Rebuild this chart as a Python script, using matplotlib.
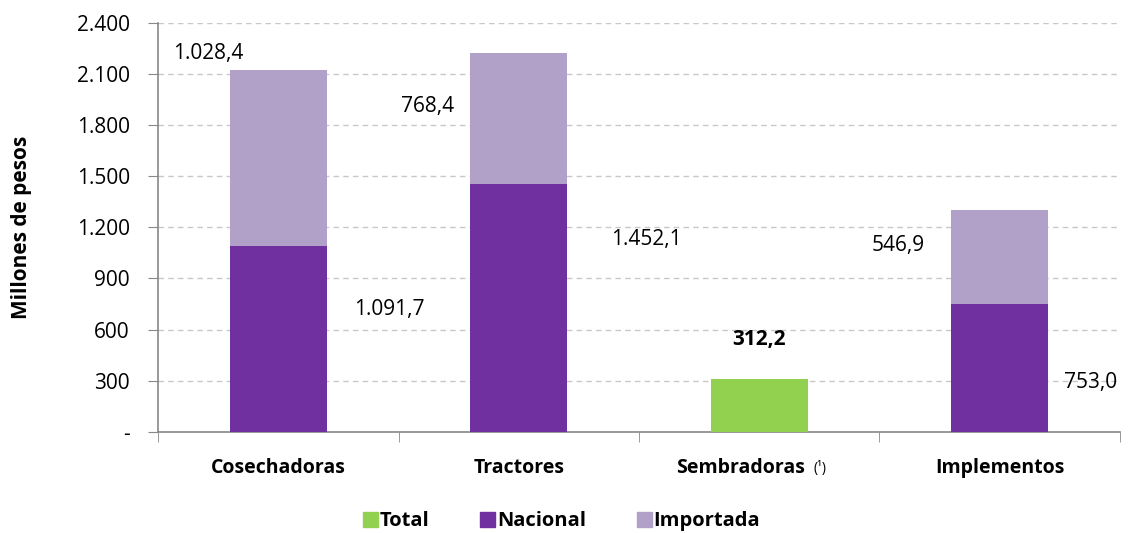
import matplotlib.pyplot as plt
from matplotlib.ticker import FuncFormatter, FixedLocator
from matplotlib.patches import Patch

plt.rcParams['font.family'] = ['Open Sans', 'DejaVu Sans']

# Datos
categorias = ["Cosechadoras", "Tractores", "Sembradoras", "Implementos"]
nacional = [1091.7, 1452.1, 0, 753.0]
importada = [1028.4, 768.4, 0, 546.9]
total = [0, 0, 312.2, 0]

# Posicion de las etiquetas (desplazadas como en el original)
etiq_nac = ["1.091,7", "1.452,1", None, "753,0"]
etiq_imp = ["1.028,4", "768,4", None, "546,9"]
pos_nac = [(0.46, 716), (1.53, 1127), None, (3.38, 293)]
pos_imp = [(-0.29, 2218), (0.62, 1907), None, (2.58, 1091)]

verde = "#92D050"
morado = "#7030A0"
lila = "#B1A0C7"

fig = plt.figure(figsize=(11.3, 5.33), dpi=100)
ax = fig.add_axes([0.14, 0.1895, 0.851, 0.768])

x = range(len(categorias))
w = 0.405
ax.bar(x, nacional, width=w, color=morado, zorder=3)
ax.bar(x, importada, bottom=nacional, width=w, color=lila, zorder=3)
ax.bar(x, total, width=w, color=verde, zorder=3)

for i in x:
    if etiq_nac[i]:
        ax.text(*pos_nac[i], etiq_nac[i], ha="center", va="center", fontsize=15)
        ax.text(*pos_imp[i], etiq_imp[i], ha="center", va="center", fontsize=15)
ax.text(2, 540, "312,2", ha="center", va="center", fontsize=15, fontweight="bold")

ax.set_xlim(-0.5, 3.5)
ax.set_ylim(0, 2400)
ax.set_yticks(range(0, 2401, 300))
ax.yaxis.set_major_formatter(FuncFormatter(
    lambda v, p: "-" if v == 0 else f"{int(v):,}".replace(",", ".")))
ax.tick_params(axis="y", labelsize=15, length=7, color="#888888", pad=13.5)
ax.grid(axis="y", color="#c8c8c8", linestyle=(0, (4, 3)), linewidth=1, zorder=0)

ax.set_xticks([])
ax.xaxis.set_minor_locator(FixedLocator([-0.5, 0.5, 1.5, 2.5, 3.5]))
ax.tick_params(axis="x", which="minor", length=7, color="#888888")

for i, c in enumerate(categorias):
    if c == "Sembradoras":
        ax.annotate(c, xy=(i, 0), xycoords=("data", "axes fraction"),
                    xytext=(-13.5, -26), textcoords="offset points",
                    ha="center", va="center", fontsize=14, fontweight="bold")
        ax.annotate("(¹)", xy=(i, 0), xycoords=("data", "axes fraction"),
                    xytext=(44, -26), textcoords="offset points",
                    ha="center", va="center", fontsize=10)
    else:
        ax.annotate(c, xy=(i, 0), xycoords=("data", "axes fraction"),
                    xytext=(0, -26), textcoords="offset points",
                    ha="center", va="center", fontsize=14, fontweight="bold")

for s in ["top", "right"]:
    ax.spines[s].set_visible(False)
for s in ["left", "bottom"]:
    ax.spines[s].set_color("#888888")
    ax.spines[s].set_linewidth(1.2)

ax.set_ylabel("Millones de pesos", fontsize=15, fontweight="bold")
ax.yaxis.set_label_coords(-0.131, 0.5)

handles = [Patch(color=verde, label="Total"),
           Patch(color=morado, label="Nacional"),
           Patch(color=lila, label="Importada")]
leg = fig.legend(handles=handles, loc="center", bbox_to_anchor=(0.497, 0.022),
                 ncol=3, frameon=False, handlelength=0.75, handleheight=0.75,
                 handletextpad=0.1, columnspacing=2.5,
                 prop={"weight": "bold", "size": 14.5})

fig.savefig("out.png", dpi=100)
